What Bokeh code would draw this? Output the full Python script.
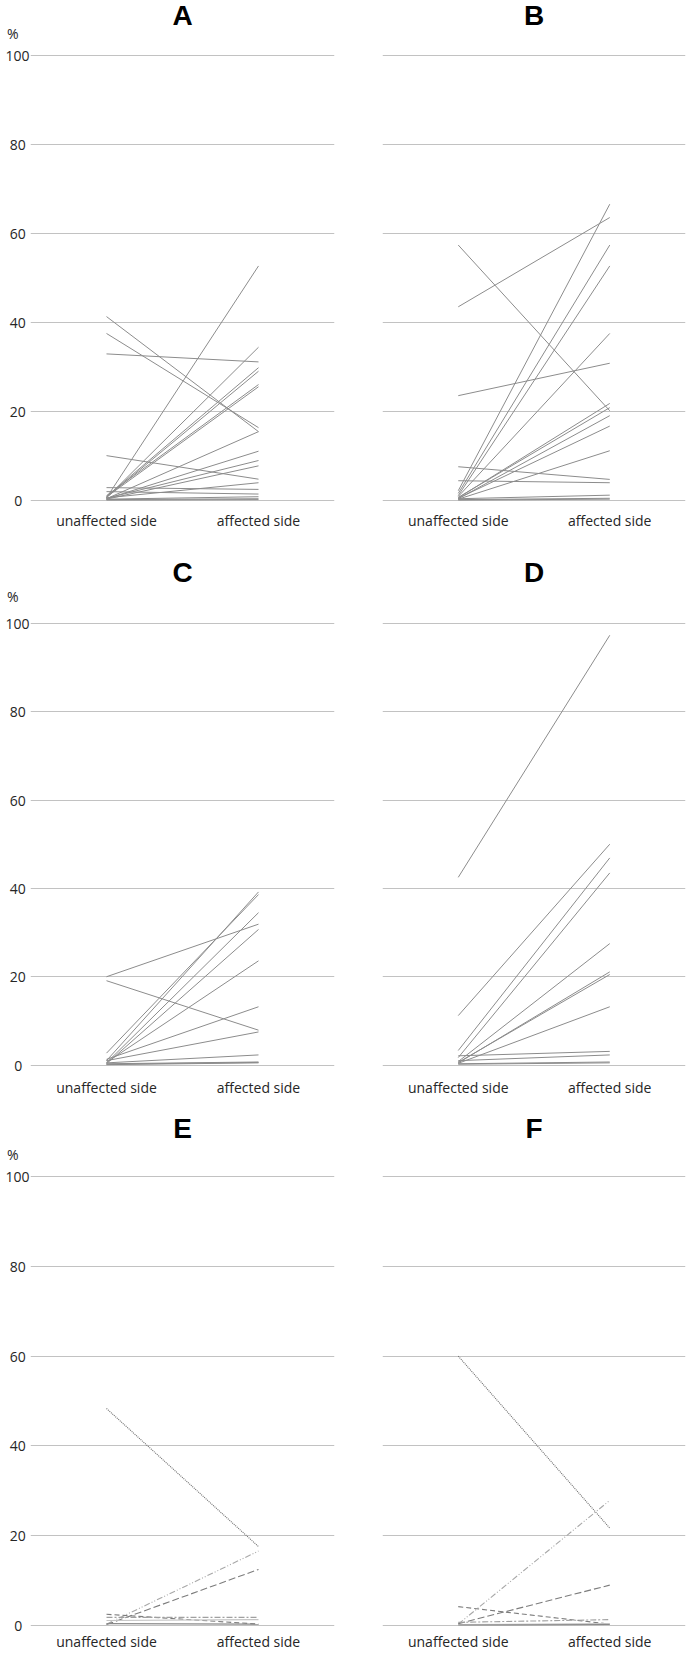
from bokeh.plotting import figure
from bokeh.models import FactorRange, Range1d, FixedTicker, Label, ColumnDataSource
from bokeh.layouts import row, column
from bokeh.embed import file_html
from bokeh.resources import INLINE

sides = ["unaffected side", "affected side"]
y_ticks = [0, 20, 40, 60, 80, 100]
y_tick_labels = ["0", "20", "40", "60", "80", "100"]
panel_letters = ["A", "B", "C", "D", "E", "F"]

# ---- data (percent) ----
A_unaffected = [41.3, 37.5, 32.9, 10.0, 0.5, 0.5, 0.8, 0.6, 1.0, 0.7, 0.3, 0.3, 0.4, 0.2, 0.5, 2.8, 1.9, 0.2, 0.1, 0.0]
A_affected   = [15.4, 16.3, 31.1, 4.7, 52.7, 34.4, 29.8, 29.0, 26.0, 25.5, 15.4, 11.0, 8.9, 7.7, 3.9, 2.4, 1.35, 0.75, 0.3, 0.1]

B_unaffected = [57.4, 43.5, 23.5, 7.5, 4.35, 2.1, 1.5, 1.0, 0.8, 0.5, 0.6, 0.3, 0.4, 0.2, 0.3, 0.1, 0.0]
B_affected   = [20.1, 63.6, 30.8, 4.65, 3.9, 66.6, 57.4, 52.7, 37.5, 21.75, 20.8, 19.0, 16.65, 11.1, 1.1, 0.4, 0.2]

C_unaffected = [20.0, 19.1, 1.0, 2.7, 0.5, 0.3, 0.6, 1.3, 1.0, 0.5, 0.3, 0.2, 0.1]
C_affected   = [31.9, 7.9, 39.2, 38.6, 34.5, 30.7, 23.6, 13.2, 7.5, 2.3, 0.7, 0.6, 0.5]

D_unaffected = [42.5, 11.2, 3.3, 1.7, 0.8, 0.5, 0.6, 0.4, 2.1, 1.0, 0.3, 0.2]
D_affected   = [97.3, 50.0, 46.9, 43.5, 27.5, 21.1, 20.5, 13.2, 3.1, 2.3, 0.7, 0.5]

E_unaffected = [48.3, 0.2, 0.1, 2.4, 1.7, 1.0, 0.3]
E_affected   = [17.5, 16.5, 12.4, 0.2, 1.7, 1.2, 0.2]

F_unaffected = [60.0, 0.2, 0.3, 4.1, 0.6, 0.1, 0.0]
F_affected   = [21.6, 27.8, 8.9, 0.2, 1.2, 0.3, 0.1]

# line styles of the individual series in E and F (dash, colour)
EF_dashes = ["1 1", "6 2 1 2 1 2", "7 3", "5 3", "6 2 2 2", "solid", "solid"]
EF_colors = ["#6e6e6e", "#a8a8a8", "#7c7c7c", "#7c7c7c", "#a0a0a0", "#c4c4c4", "#8a8a8a"]

LINE_COLOR = "#8c8c8c"
GRID_COLOR = "#c2c2c2"
TEXT_COLOR = "#262626"
NB = "\u00a0"


def centered_label(txt):
    # value labels in the reference are centred in their column
    pad = {1: 2, 2: 1, 3: 0}.get(len(txt), 0)
    return txt + NB * pad


def make_panel(letter, unaff, aff, left_side, height, top, bottom, y_max,
               standoff, title_y, pct_y, styles=None):
    if left_side:
        width, bl, br = 353, 40, 9
    else:
        width, bl, br = 344, 39, 2
    p = figure(width=width, height=height,
               x_range=FactorRange(factors=sides, range_padding=0, factor_padding=0),
               y_range=Range1d(-1, y_max),
               output_backend="svg", toolbar_location=None,
               min_border_left=bl, min_border_right=br,
               min_border_top=top, min_border_bottom=bottom)
    p.outline_line_color = None
    p.background_fill_color = "white"
    p.border_fill_color = "white"
    p.xgrid.visible = False
    p.ygrid.ticker = FixedTicker(ticks=y_ticks)
    p.ygrid.grid_line_color = GRID_COLOR
    p.ygrid.grid_line_width = 1

    # the "%" unit sits on the value axis above 100
    p.yaxis.ticker = FixedTicker(ticks=y_ticks + [pct_y])
    overrides = {t: centered_label(s) for t, s in zip(y_ticks, y_tick_labels)}
    overrides[pct_y] = "%" + NB * 3
    p.yaxis.major_label_overrides = overrides
    p.yaxis.axis_line_color = None
    p.yaxis.major_tick_line_color = None
    p.yaxis.major_tick_out = 0
    p.yaxis.major_tick_in = 0
    p.yaxis.minor_tick_line_color = None
    p.yaxis.minor_tick_out = 0
    p.yaxis.major_label_standoff = 1
    p.yaxis.major_label_text_font = "Open Sans"
    p.yaxis.major_label_text_font_size = "14px"
    p.yaxis.major_label_text_color = TEXT_COLOR
    if not left_side:
        p.yaxis.visible = False

    p.xaxis.axis_line_color = None
    p.xaxis.major_tick_line_color = None
    p.xaxis.major_tick_out = 0
    p.xaxis.major_tick_in = 0
    p.xaxis.minor_tick_line_color = None
    p.xaxis.major_label_standoff = standoff
    p.xaxis.major_label_text_font = "Open Sans"
    p.xaxis.major_label_text_font_size = "14px"
    p.xaxis.major_label_text_color = TEXT_COLOR
    # category names sit slightly inward of the category centres
    p.xaxis.major_label_overrides = {sides[0]: NB * 3 + sides[0],
                                     sides[1]: sides[1] + NB * 3}

    n = len(unaff)
    if styles is None:
        src = ColumnDataSource(dict(x0=[sides[0]] * n, y0=unaff,
                                    x1=[sides[1]] * n, y1=aff))
        p.segment(x0="x0", y0="y0", x1="x1", y1="y1", source=src,
                  line_color=LINE_COLOR, line_width=1)
    else:
        dashes, colors = styles
        for i in range(n):
            src = ColumnDataSource(dict(x0=[sides[0]], y0=[unaff[i]],
                                        x1=[sides[1]], y1=[aff[i]]))
            p.segment(x0="x0", y0="y0", x1="x1", y1="y1", source=src,
                      line_color=colors[i], line_width=1.1, line_dash=dashes[i])

    p.add_layout(Label(x=1.0, y=title_y, text=letter, text_align="center",
                       text_baseline="middle", text_font="Liberation Sans",
                       text_font_style="bold", text_font_size="28px",
                       text_color="black"))
    return p


pA = make_panel("A", A_unaffected, A_affected, True, 540, 2, 36, 112, 6, 109.0, 105)
pB = make_panel("B", B_unaffected, B_affected, False, 540, 2, 36, 112, 6, 109.0, 105)
pC = make_panel("C", C_unaffected, C_affected, True, 560, 21, 31, 114, 8, 111.4, 106)
pD = make_panel("D", D_unaffected, D_affected, False, 560, 21, 31, 114, 8, 111.4, 106)
pE = make_panel("E", E_unaffected, E_affected, True, 553, 18, 21, 113, 2, 110.7, 105,
                styles=(EF_dashes, EF_colors))
pF = make_panel("F", F_unaffected, F_affected, False, 553, 18, 21, 113, 2, 110.7, 105,
                styles=(EF_dashes, EF_colors))

shift = (0, 0, 0, -10)
layout = column(row(pA, pB, margin=shift), row(pC, pD, margin=shift),
                row(pE, pF, margin=shift))

open("out.html", "w").write(file_html(layout, INLINE))
